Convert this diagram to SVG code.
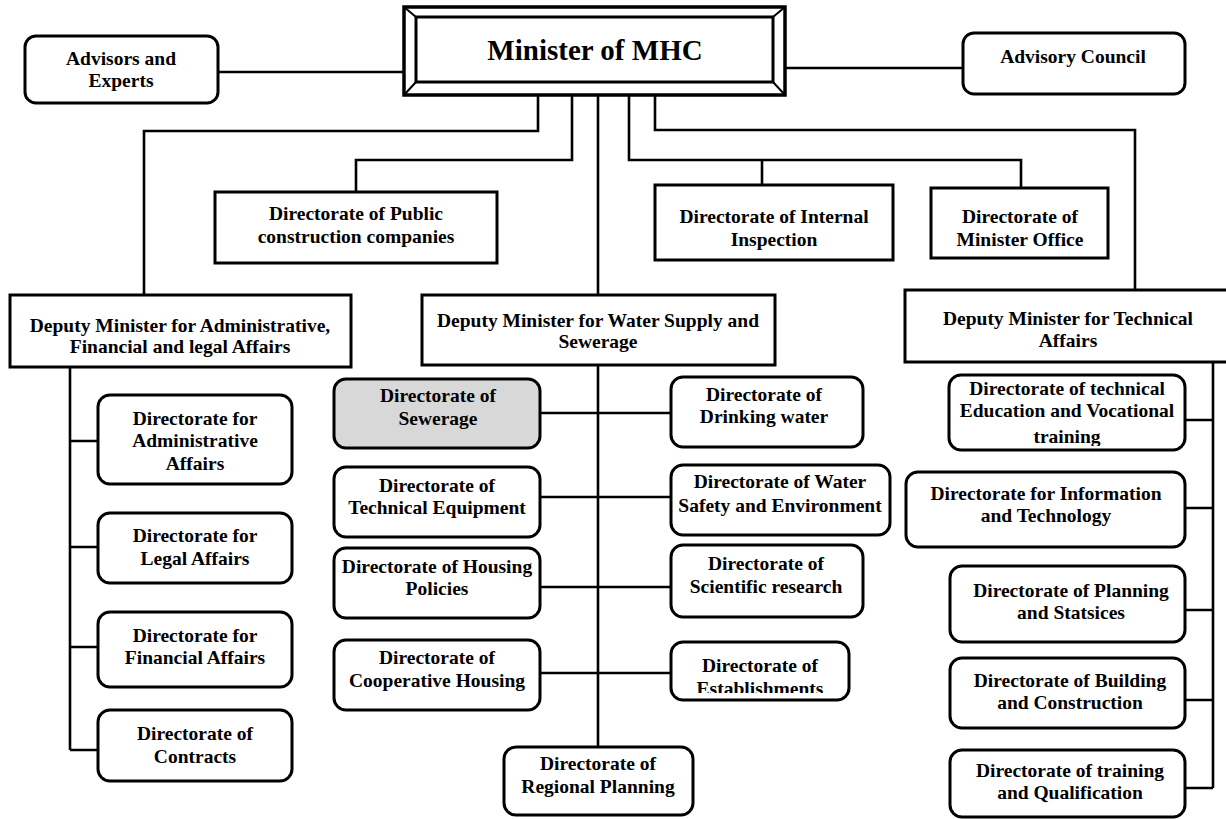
<svg xmlns="http://www.w3.org/2000/svg" width="1226" height="819" viewBox="0 0 1226 819">
<style>
.bx{fill:#fff;stroke:#000;stroke-width:3}
.gr{fill:#d8d8d8;stroke:#000;stroke-width:3}
.ln{fill:none;stroke:#000;stroke-width:2.6}
text{font-family:"Liberation Serif","Times New Roman",serif;font-weight:bold;font-size:19.5px;fill:#000;text-anchor:middle}
.big{font-size:29px}
</style>
<defs>
<clipPath id="cTE"><rect x="949" y="375" width="236" height="71"/></clipPath>
<clipPath id="cES"><rect x="671" y="642" width="178" height="51"/></clipPath>
</defs>
<rect width="1226" height="819" fill="#fff"/>
<g id="connectors" class="ln">
<path d="M218,72 H404"/>
<path d="M785,68 H963"/>
<path d="M538,95 V131 H144 V295"/>
<path d="M572,95 V160 H356 V192"/>
<path d="M629,95 V160 H1021 V188"/>
<path d="M762,160 V185"/>
<path d="M655,95 V130 H1135 V290"/>
<path d="M598,95 V747"/>
<path d="M70,367 V750"/>
<path d="M70,441 H98 M70,547 H98 M70,647 H98 M70,750 H98"/>
<path d="M540,413 H671 M540,497 H671 M540,587 H671 M540,673 H671"/>
<path d="M1213,362 V788"/>
<path d="M1185,420 H1213 M1185,508 H1213 M1185,610 H1213 M1185,700 H1213 M1185,788 H1213"/>
</g>
<g id="minister">
<rect x="404" y="7" width="381" height="88" fill="#fff" stroke="#000" stroke-width="3.5"/>
<rect x="416" y="17" width="357" height="65" fill="none" stroke="#000" stroke-width="3"/>
<path d="M404,7 L416,17 M785,7 L773,17 M404,95 L416,82 M785,95 L773,82" stroke="#000" stroke-width="2"/>
<text class="big" x="595" y="60">Minister of MHC</text>
</g>
<g id="advisors">
<rect class="bx" x="25" y="36" width="193" height="67" rx="11"/>
<text x="121" y="65">Advisors and</text><text x="121" y="87">Experts</text>
</g>
<g id="advisory-council">
<rect class="bx" x="963" y="33" width="222" height="61" rx="11"/>
<text x="1073" y="63">Advisory Council</text>
</g>
<g id="public-construction">
<rect class="bx" x="215" y="192" width="282" height="71"/>
<text x="356" y="220">Directorate of Public</text><text x="356" y="243">construction companies</text>
</g>
<g id="internal-inspection">
<rect class="bx" x="655" y="185" width="238" height="75"/>
<text x="774" y="223">Directorate of Internal</text><text x="774" y="246">Inspection</text>
</g>
<g id="minister-office">
<rect class="bx" x="931" y="188" width="177" height="70"/>
<text x="1020" y="223">Directorate of</text><text x="1020" y="246">Minister Office</text>
</g>
<g id="deputy-admin">
<rect class="bx" x="10" y="295" width="341" height="72"/>
<text x="180" y="332">Deputy Minister for Administrative,</text><text x="180" y="353">Financial and legal Affairs</text>
</g>
<g id="deputy-water">
<rect class="bx" x="422" y="295" width="353" height="70"/>
<text x="598" y="327">Deputy Minister for Water Supply and</text><text x="598" y="348">Sewerage</text>
</g>
<g id="deputy-technical">
<rect class="bx" x="905" y="290" width="330" height="72"/>
<text x="1068" y="325">Deputy Minister for Technical</text><text x="1068" y="347">Affairs</text>
</g>
<g id="admin-affairs">
<rect class="bx" x="98" y="395" width="194" height="89" rx="12"/>
<text x="195" y="425">Directorate for</text><text x="195" y="447">Administrative</text><text x="195" y="470">Affairs</text>
</g>
<g id="legal-affairs">
<rect class="bx" x="98" y="513" width="194" height="70" rx="12"/>
<text x="195" y="542">Directorate for</text><text x="195" y="565">Legal Affairs</text>
</g>
<g id="financial-affairs">
<rect class="bx" x="98" y="612" width="194" height="75" rx="12"/>
<text x="195" y="642">Directorate for</text><text x="195" y="664">Financial Affairs</text>
</g>
<g id="contracts">
<rect class="bx" x="98" y="710" width="194" height="71" rx="12"/>
<text x="195" y="740">Directorate of</text><text x="195" y="763">Contracts</text>
</g>
<g id="sewerage">
<rect class="gr" x="334" y="379" width="206" height="69" rx="12"/>
<text x="438" y="402">Directorate of</text><text x="438" y="425">Sewerage</text>
</g>
<g id="technical-equipment">
<rect class="bx" x="334" y="467" width="206" height="70" rx="12"/>
<text x="437" y="492">Directorate of</text><text x="437" y="514">Technical Equipment</text>
</g>
<g id="housing-policies">
<rect class="bx" x="334" y="548" width="206" height="70" rx="12"/>
<text x="437" y="573">Directorate of Housing</text><text x="437" y="595">Policies</text>
</g>
<g id="cooperative-housing">
<rect class="bx" x="334" y="640" width="206" height="70" rx="12"/>
<text x="437" y="664">Directorate of</text><text x="437" y="687">Cooperative Housing</text>
</g>
<g id="regional-planning">
<rect class="bx" x="504" y="747" width="189" height="68" rx="12"/>
<text x="598" y="770">Directorate of</text><text x="598" y="793">Regional Planning</text>
</g>
<g id="drinking-water">
<rect class="bx" x="671" y="377" width="192" height="70" rx="12"/>
<text x="764" y="401">Directorate of</text><text x="764" y="423">Drinking water</text>
</g>
<g id="water-safety">
<rect class="bx" x="671" y="465" width="219" height="70" rx="12"/>
<text x="780" y="488">Directorate of Water</text><text x="780" y="512">Safety and Environment</text>
</g>
<g id="scientific-research">
<rect class="bx" x="671" y="545" width="192" height="72" rx="12"/>
<text x="766" y="570">Directorate of</text><text x="766" y="593">Scientific research</text>
</g>
<g id="establishments">
<rect class="bx" x="671" y="642" width="178" height="58" rx="12"/>
<text x="760" y="672">Directorate of</text><text x="760" y="695" clip-path="url(#cES)">Establishments</text>
</g>
<g id="technical-education">
<rect class="bx" x="949" y="375" width="236" height="75" rx="12"/>
<text x="1067" y="395">Directorate of technical</text><text x="1067" y="417">Education and Vocational</text><text x="1067" y="443" clip-path="url(#cTE)">training</text>
</g>
<g id="information-technology">
<rect class="bx" x="906" y="472" width="279" height="75" rx="12"/>
<text x="1046" y="500">Directorate for Information</text><text x="1046" y="522">and Technology</text>
</g>
<g id="planning-statistics">
<rect class="bx" x="950" y="566" width="235" height="76" rx="12"/>
<text x="1071" y="597">Directorate of Planning</text><text x="1071" y="619">and Statsices</text>
</g>
<g id="building-construction">
<rect class="bx" x="950" y="658" width="235" height="70" rx="12"/>
<text x="1070" y="687">Directorate of Building</text><text x="1070" y="709">and Construction</text>
</g>
<g id="training-qualification">
<rect class="bx" x="950" y="750" width="235" height="67" rx="12"/>
<text x="1070" y="777">Directorate of training</text><text x="1070" y="799">and Qualification</text>
</g>
</svg>
